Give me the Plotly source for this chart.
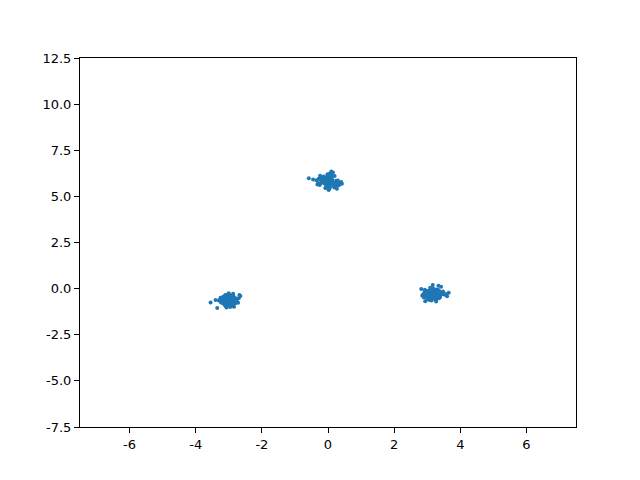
import plotly.graph_objects as go

# cluster near (0, 5.8)
top_x = [-0.02, 0.05, -0.10, 0.12, 0.00, -0.05, 0.08, -0.15, 0.18, 0.03,
         -0.08, 0.10, -0.12, 0.20, -0.20, 0.06, -0.03, 0.14, -0.18, 0.25,
         -0.25, 0.01, 0.09, -0.07, 0.16, -0.13, 0.22, -0.22, 0.04, -0.01,
         0.11, -0.09, 0.28, -0.28, 0.07, -0.04, 0.13, -0.16, 0.19, -0.11,
         0.30, -0.32, 0.02, 0.15, -0.06, 0.35, -0.35, 0.24, -0.24, 0.40,
         -0.45, -0.58, 0.42, 0.10, -0.14, 0.27, -0.30, 0.05, -0.02, 0.17,
         0.00, -0.10, 0.08, -0.04, 0.12, -0.07, 0.03, 0.06, -0.12, 0.14,
         -0.17, 0.21, -0.01, 0.09, -0.19, 0.02, 0.33, -0.26, 0.13, -0.08]
top_y = [5.80, 5.95, 5.70, 5.85, 6.05, 5.60, 5.75, 5.90, 5.65, 5.55,
         6.00, 5.88, 5.78, 6.10, 5.72, 5.50, 5.82, 5.68, 5.98, 5.85,
         5.62, 6.20, 5.92, 5.45, 5.74, 6.08, 5.58, 5.90, 5.40, 5.66,
         6.15, 5.84, 5.70, 5.96, 6.25, 5.52, 5.77, 6.02, 5.48, 5.94,
         5.86, 5.64, 5.35, 6.30, 5.81, 5.73, 5.88, 5.55, 6.12, 5.78,
         5.92, 5.98, 5.68, 6.35, 5.86, 5.42, 5.72, 5.60, 6.18, 5.76,
         5.76, 5.84, 5.66, 5.90, 5.78, 5.70, 5.96, 5.82, 6.00, 5.62,
         5.80, 5.74, 5.52, 6.04, 5.86, 6.12, 5.60, 5.68, 5.92, 5.46]

# cluster near (-3, -0.6)
left_x = [-3.00, -2.95, -3.08, -2.90, -3.04, -2.98, -3.12, -2.86, -3.02, -2.94,
          -3.15, -2.82, -3.06, -2.92, -3.10, -2.88, -3.18, -2.80, -3.01, -2.97,
          -3.05, -2.93, -3.20, -2.78, -3.09, -2.91, -3.13, -2.85, -3.03, -2.99,
          -3.22, -2.76, -3.07, -2.89, -3.16, -2.84, -3.11, -2.96, -3.25, -2.72,
          -3.55, -3.35, -2.65, -2.68, -3.28, -3.00, -2.96, -3.04, -2.87, -3.14,
          -2.93, -3.06, -3.19, -2.81, -3.02, -2.95, -3.10, -2.90, -3.30, -2.74,
          -3.01, -2.98, -3.05, -2.92, -3.08, -2.89, -3.13, -2.83, -2.99, -3.03,
          -3.17, -2.79, -3.40, -2.70, -3.07, -2.94, -3.11, -2.86, -3.24, -2.97]
left_y = [-0.60, -0.50, -0.70, -0.55, -0.45, -0.80, -0.62, -0.40, -0.75, -0.65,
          -0.52, -0.68, -0.35, -0.85, -0.58, -0.48, -0.72, -0.62, -0.30, -0.90,
          -0.66, -0.42, -0.78, -0.54, -0.95, -0.38, -0.64, -0.82, -0.46, -0.70,
          -0.56, -0.74, -0.88, -0.44, -0.60, -0.98, -0.34, -0.68, -0.50, -0.76,
          -0.75, -1.05, -0.40, -0.35, -0.62, -0.25, -1.00, -0.92, -0.28, -0.84,
          -0.58, -0.86, -0.48, -0.66, -0.36, -0.72, -0.52, -0.94, -0.64, -0.56,
          -0.70, -0.46, -0.82, -0.58, -0.40, -0.66, -0.88, -0.50, -0.76, -0.32,
          -0.44, -0.78, -0.62, -0.52, -1.02, -0.68, -0.42, -0.86, -0.74, -0.60]

# cluster near (3.15, -0.3)
right_x = [3.15, 3.05, 3.25, 3.10, 3.20, 2.98, 3.30, 3.12, 3.18, 3.08,
           3.00, 3.35, 3.22, 2.92, 3.28, 3.14, 3.40, 3.02, 3.17, 3.24,
           2.88, 3.45, 3.06, 3.32, 3.11, 2.95, 3.26, 3.38, 3.04, 3.19,
           3.50, 2.85, 3.13, 3.21, 3.55, 2.90, 3.09, 3.36, 3.16, 3.27,
           3.65, 2.82, 3.60, 3.42, 3.01, 3.23, 3.48, 2.96, 3.34, 3.07,
           3.12, 3.29, 3.03, 3.19, 3.44, 2.93, 3.31, 3.15, 3.52, 3.00,
           3.18, 3.10, 3.26, 3.06, 3.22, 3.14, 2.99, 3.37, 3.08, 3.20,
           3.28, 2.94, 3.46, 3.11, 3.33, 3.02, 3.58, 3.17, 2.87, 3.39]
right_y = [-0.30, -0.20, -0.40, -0.25, -0.35, -0.15, -0.45, -0.28, -0.10, -0.38,
           -0.22, -0.32, -0.50, -0.18, -0.05, -0.42, -0.26, -0.34, -0.55, -0.12,
           -0.30, -0.24, -0.46, -0.08, -0.36, -0.20, -0.60, -0.14, -0.40, 0.00,
           -0.28, -0.38, -0.65, -0.18, -0.32, -0.48, 0.05, -0.52, -0.22, -0.70,
           -0.22, -0.02, -0.42, 0.10, -0.58, -0.34, -0.16, -0.44, 0.15, -0.62,
           -0.36, -0.26, -0.12, -0.48, -0.30, -0.06, -0.54, 0.02, -0.32, -0.20,
           -0.24, -0.44, -0.16, -0.34, -0.52, -0.04, -0.28, -0.40, -0.10, -0.30,
           -0.38, -0.68, -0.26, -0.56, -0.08, -0.14, -0.30, 0.20, -0.36, -0.46]

x_ticks = [-6, -4, -2, 0, 2, 4, 6]
y_ticks = [-7.5, -5.0, -2.5, 0.0, 2.5, 5.0, 7.5, 10.0, 12.5]

xs = top_x + left_x + right_x
ys = top_y + left_y + right_y

fig = go.Figure(go.Scatter(x=xs, y=ys, mode='markers',
                           marker=dict(color='#1f77b4', size=4, line=dict(width=0))))

axis = dict(showgrid=False, zeroline=False, showline=True, linecolor='black',
            linewidth=1, mirror=True, ticks='outside', ticklen=5, tickcolor='black',
            tickfont=dict(family='DejaVu Sans', size=13, color='black'))
fig.update_xaxes(range=[-7.5, 7.5], tickvals=x_ticks,
                 ticktext=[str(t) for t in x_ticks], **axis)
fig.update_yaxes(range=[-7.5, 12.5], tickvals=y_ticks,
                 ticktext=['%.1f' % t for t in y_ticks], **axis)
# body has an 8px margin in the page, so shift the plot up/left
fig.update_layout(width=640, height=480, plot_bgcolor='white', paper_bgcolor='white',
                  margin=dict(l=72, r=72, t=50, b=61), showlegend=False)
fig.write_html("out.html")
